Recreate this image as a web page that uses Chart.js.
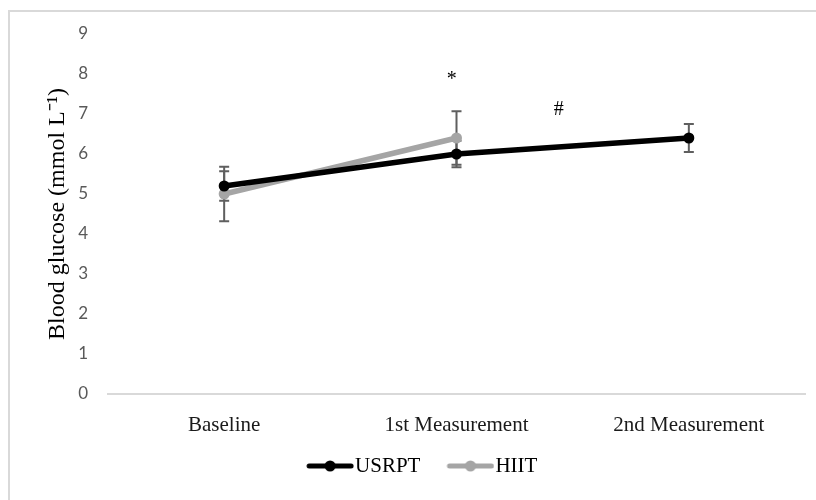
<!DOCTYPE html>
<html>
<head>
<meta charset="utf-8">
<script src="https://cdn.jsdelivr.net/npm/chart.js@4.4.1/dist/chart.umd.min.js"></script>
<style>
    html, body { margin: 0; padding: 0; background: #fff; }
    #wrap { width: 816px; height: 500px; }
</style>
</head>
<body>
<div id="wrap"><canvas id="glucoseChart" width="816" height="500"></canvas></div>
<script>
// --- Data ---
const categories = ['Baseline', '1st Measurement', '2nd Measurement'];
const usrptValues = [5.2, 6.0, 6.4];
const usrptErrors = [0.37, 0.33, 0.35];
const hiitValues = [5.0, 6.4, null];
const hiitErrors = [0.68, 0.67, null];
const yTicks = [0, 1, 2, 3, 4, 5, 6, 7, 8, 9];

// significance marks: text, category position, value
const noteTexts = ['*', '#'];
const notePositions = [0.98, 1.44];
const noteValues = [7.85, 7.1];

const serif = "'Liberation Serif', 'Times New Roman', serif";
const seriesColors = ['#000000', '#a5a5a5'];

// legend icon: line with dot in the middle (12px empty on the left = gap between items)
function legendIcon(color) {
    const c = document.createElement('canvas');
    c.width = 60;
    c.height = 12;
    const g = c.getContext('2d');
    g.strokeStyle = color;
    g.lineWidth = 5;
    g.lineCap = 'round';
    g.beginPath();
    g.moveTo(15, 6);
    g.lineTo(57, 6);
    g.stroke();
    g.fillStyle = color;
    g.beginPath();
    g.arc(36, 6, 5.5, 0, Math.PI * 2);
    g.fill();
    return c;
}
const legendIcons = seriesColors.map(legendIcon);

// white background + light frame (left and top edges only visible)
const framePlugin = {
    id: 'frame',
    beforeDraw(chart) {
        const ctx = chart.ctx;
        ctx.save();
        ctx.fillStyle = '#ffffff';
        ctx.fillRect(0, 0, chart.width, chart.height);
        ctx.strokeStyle = '#d9d9d9';
        ctx.lineWidth = 2;
        ctx.beginPath();
        ctx.moveTo(9, chart.height);
        ctx.lineTo(9, 11);
        ctx.lineTo(chart.width, 11);
        ctx.stroke();
        ctx.restore();
    }
};

// error bars drawn under the lines
const errorBarPlugin = {
    id: 'errorBars',
    beforeDatasetsDraw(chart) {
        const ctx = chart.ctx;
        const x = chart.scales.x;
        const y = chart.scales.y;
        const sets = [[usrptValues, usrptErrors], [hiitValues, hiitErrors]];
        ctx.save();
        ctx.strokeStyle = '#5f5f5f';
        ctx.lineWidth = 2;
        sets.forEach(function (s) {
            s[0].forEach(function (v, i) {
                if (v === null || s[1][i] === null) return;
                const px = x.getPixelForValue(i);
                const top = y.getPixelForValue(v + s[1][i]);
                const bot = y.getPixelForValue(v - s[1][i]);
                ctx.beginPath();
                ctx.moveTo(px, top);
                ctx.lineTo(px, bot);
                ctx.moveTo(px - 5, top);
                ctx.lineTo(px + 5, top);
                ctx.moveTo(px - 5, bot);
                ctx.lineTo(px + 5, bot);
                ctx.stroke();
            });
        });
        ctx.restore();
    }
};

// * and # marks
const notesPlugin = {
    id: 'notes',
    afterDatasetsDraw(chart) {
        const ctx = chart.ctx;
        const x = chart.scales.x;
        const y = chart.scales.y;
        ctx.save();
        ctx.fillStyle = '#000';
        ctx.font = '20px ' + serif;
        ctx.textAlign = 'center';
        ctx.textBaseline = 'middle';
        noteTexts.forEach(function (t, i) {
            const p = notePositions[i];
            const i0 = Math.floor(p);
            const px = x.getPixelForValue(i0) + (p - i0) * (x.getPixelForValue(i0 + 1) - x.getPixelForValue(i0));
            ctx.fillText(t, px, y.getPixelForValue(noteValues[i]));
        });
        ctx.restore();
    }
};

const ctx = document.getElementById('glucoseChart').getContext('2d');
new Chart(ctx, {
    type: 'line',
    data: {
        labels: categories,
        datasets: [
            {
                label: 'USRPT',
                data: usrptValues,
                borderColor: seriesColors[0],
                backgroundColor: seriesColors[0],
                borderWidth: 5.5,
                pointRadius: 5.5,
                pointBorderWidth: 0,
                pointBackgroundColor: seriesColors[0],
                tension: 0
            },
            {
                label: 'HIIT',
                data: hiitValues,
                borderColor: seriesColors[1],
                backgroundColor: seriesColors[1],
                borderWidth: 5.5,
                pointRadius: 5.5,
                pointBorderWidth: 0,
                pointBackgroundColor: seriesColors[1],
                tension: 0
            }
        ]
    },
    options: {
        responsive: false,
        animation: false,
        layout: { padding: { left: 36, right: 11, top: 34, bottom: 13.5 } },
        plugins: {
            legend: {
                position: 'bottom',
                labels: {
                    usePointStyle: true,
                    pointStyleWidth: 41,
                    padding: 23.5,
                    color: '#000',
                    font: { family: serif, size: 21 },
                    generateLabels: function (chart) {
                        const items = Chart.defaults.plugins.legend.labels.generateLabels(chart);
                        items.forEach(function (it, i) { it.pointStyle = legendIcons[i]; });
                        return items;
                    }
                }
            },
            tooltip: { enabled: false }
        },
        scales: {
            x: {
                offset: true,
                grid: { display: false, drawTicks: false },
                border: { display: true, color: '#d9d9d9', width: 2 },
                ticks: {
                    padding: 19,
                    maxRotation: 0,
                    color: '#1a1a1a',
                    font: { family: serif, size: 21 }
                },
                afterFit: function (scale) { scale.height = 38; }
            },
            y: {
                min: 0,
                max: 9,
                afterBuildTicks: function (scale) {
                    scale.ticks = yTicks.map(function (v) { return { value: v }; });
                },
                grid: { display: false, drawTicks: false },
                border: { display: false },
                ticks: {
                    padding: 20,
                    color: '#595959',
                    font: { family: "Lato, 'Open Sans', sans-serif", size: 17 }
                },
                title: {
                    display: true,
                    text: 'Blood glucose (mmol L\u207B\u00B9)',
                    color: '#000',
                    padding: { top: 7, bottom: 0 },
                    font: { family: serif, size: 24 }
                },
                afterFit: function (scale) { scale.width = 72; }
            }
        }
    },
    plugins: [framePlugin, errorBarPlugin, notesPlugin]
});
</script>
</body>
</html>
